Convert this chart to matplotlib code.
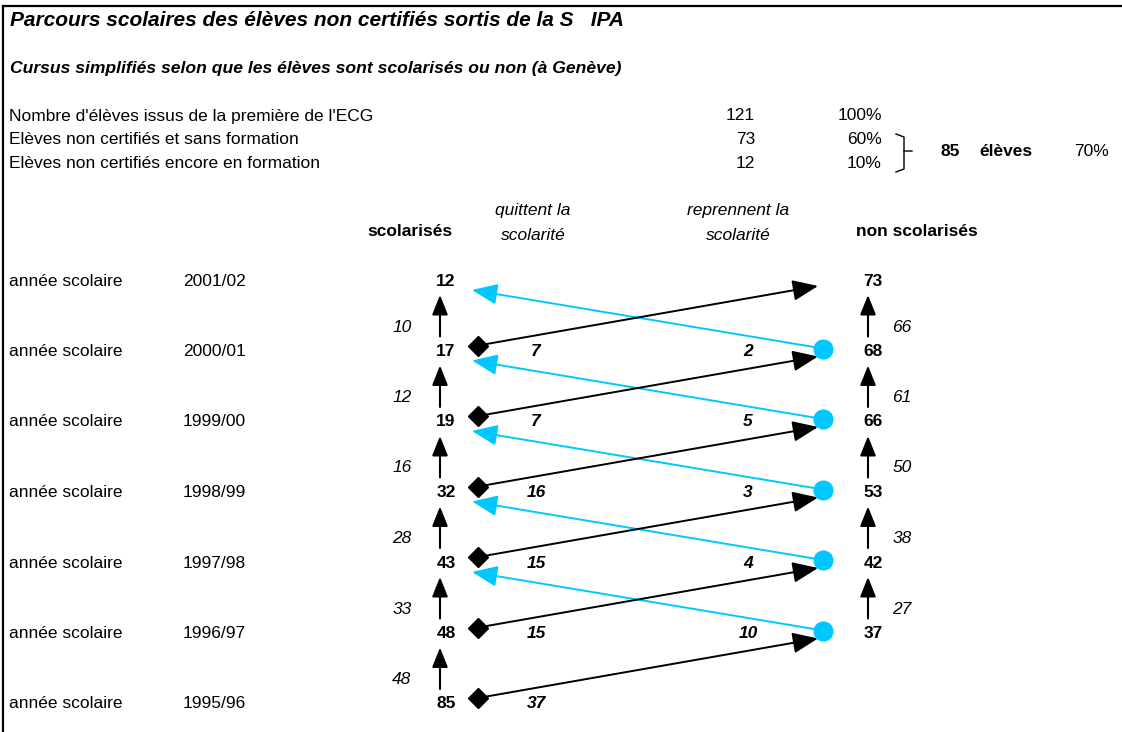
import matplotlib
matplotlib.use('Agg')
import matplotlib.pyplot as plt

plt.rcParams['font.family'] = ['Liberation Sans', 'DejaVu Sans']

# data
years = ['2001/02', '2000/01', '1999/00', '1998/99', '1997/98', '1996/97', '1995/96']
scolarises = [12, 17, 19, 32, 43, 48, 85]          # one per year row
non_scolarises = [73, 68, 66, 53, 42, 37]          # rows 2001/02 .. 1996/97
restent_scol = [10, 12, 16, 28, 33, 48]            # between row i+1 and row i (left)
restent_non = [66, 61, 50, 38, 27]                 # between row i+1 and row i (right)
quittent = [7, 7, 16, 15, 15, 37]                  # from rows 2000/01 .. 1995/96
reprennent = [2, 5, 3, 4, 10]                      # from rows 2000/01 .. 1996/97

summary_labels = ["Nombre d'élèves issus de la première de l'ECG",
                  "Elèves non certifiés et sans formation",
                  "Elèves non certifiés encore en formation"]
summary_n = [121, 73, 12]
summary_pct = ['100%', '60%', '10%']

BLUE = '#00c8ff'
FS = 12.5

fig = plt.figure(figsize=(11.22, 7.32), dpi=100)
ax = fig.add_axes([0, 0, 1, 1])
ax.set_xlim(0, 1122)
ax.set_ylim(732, 0)
ax.axis('off')

# frame (top + left)
ax.plot([3, 1122], [6, 6], color='black', lw=1.6)
ax.plot([3, 3], [6, 732], color='black', lw=1.6)

# titles
ax.text(10, 20, 'Parcours scolaires des élèves non certifiés sortis de la S   IPA',
        fontsize=15, fontweight='bold', style='italic', va='center')
ax.text(10, 69, 'Cursus simplifiés selon que les élèves sont scolarisés ou non (à Genève)',
        fontsize=12.6, fontweight='bold', style='italic', va='center')

# summary block
for i, (lab, n, p) in enumerate(zip(summary_labels, summary_n, summary_pct)):
    y = 116 + 23.5 * i
    ax.text(9, y, lab, fontsize=FS, va='center')
    ax.text(755, y, str(n), fontsize=FS, va='center', ha='right')
    ax.text(882, y, p, fontsize=FS, va='center', ha='right')
# brace
ax.plot([896, 904, 904, 912], [134, 137, 151, 151], color='black', lw=1)
ax.plot([904, 904, 896], [151, 169, 172], color='black', lw=1)
ax.text(950, 151, str(summary_n[1] + summary_n[2]), fontsize=FS, fontweight='bold',
        va='center', ha='center')
ax.text(1006, 151, 'élèves', fontsize=FS, fontweight='bold', va='center', ha='center')
ax.text(1109, 152, '70%', fontsize=FS, va='center', ha='right')

# column headers
ax.text(410, 232, 'scolarisés', fontsize=FS, fontweight='bold', va='center', ha='center')
ax.text(533, 210, 'quittent la', fontsize=FS, style='italic', va='center', ha='center')
ax.text(533, 235, 'scolarité', fontsize=FS, style='italic', va='center', ha='center')
ax.text(738, 210, 'reprennent la', fontsize=FS, style='italic', va='center', ha='center')
ax.text(738, 235, 'scolarité', fontsize=FS, style='italic', va='center', ha='center')
ax.text(917, 232, 'non scolarisés', fontsize=FS, fontweight='bold', va='center', ha='center')

row_y = [280 + 70.5 * i for i in range(len(years))]
x_scol, x_non = 446, 873
x_up_l, x_up_r = 440, 868

for i, yr in enumerate(years):
    y = row_y[i]
    ax.text(9, y + 1, 'année scolaire', fontsize=FS, va='center')
    ax.text(183, y + 1, yr, fontsize=FS, va='center')
    ax.text(x_scol, y + 1, str(scolarises[i]), fontsize=FS, fontweight='bold',
            va='center', ha='center')
    if i < len(non_scolarises):
        ax.text(x_non, y + 1, str(non_scolarises[i]), fontsize=FS, fontweight='bold',
                va='center', ha='center')

up_style = dict(arrowstyle='-|>,head_length=0.6,head_width=0.24', mutation_scale=20,
                color='black', lw=1.5, shrinkA=0, shrinkB=0)
for i, v in enumerate(restent_scol):
    ax.annotate('', xy=(x_up_l, row_y[i] + 15), xytext=(x_up_l, row_y[i + 1] - 14),
                arrowprops=up_style)
    ax.text(402, row_y[i] + 47, str(v), fontsize=FS, style='italic', va='center',
            ha='center')
for i, v in enumerate(restent_non):
    ax.annotate('', xy=(x_up_r, row_y[i] + 15), xytext=(x_up_r, row_y[i + 1] - 14),
                arrowprops=up_style)
    ax.text(902, row_y[i] + 47, str(v), fontsize=FS, style='italic', va='center',
            ha='center')

diag_black = dict(arrowstyle='-|>,head_length=0.78,head_width=0.32', mutation_scale=20,
                  color='black', lw=1.4, shrinkA=0, shrinkB=0)
diag_blue = dict(arrowstyle='-|>,head_length=0.78,head_width=0.32', mutation_scale=20,
                 color=BLUE, lw=1.4, shrinkA=0, shrinkB=0)

# quittent: scolarisés (row i+1) -> non scolarisés (row i)
for i, v in enumerate(quittent):
    y0 = row_y[i + 1] - 5
    y1 = row_y[i] + 6
    ax.annotate('', xy=(818, y1), xytext=(478, y0), arrowprops=diag_black)
    ax.plot(478, y0, marker='D', color='black', markersize=10.5)
    ax.text(536, row_y[i + 1] + 1, str(v), fontsize=FS, fontweight='bold',
            style='italic', va='center', ha='center')

# reprennent: non scolarisés (row i+1) -> scolarisés (row i)
for i, v in enumerate(reprennent):
    y0 = row_y[i + 1] - 2
    y1 = row_y[i] + 10
    ax.annotate('', xy=(472, y1), xytext=(823, y0), arrowprops=diag_blue, zorder=2)
    ax.plot(823, y0, marker='o', color=BLUE, markersize=13.5, zorder=3)
    ax.text(748, row_y[i + 1] + 1, str(v), fontsize=FS, fontweight='bold',
            style='italic', va='center', ha='center')

fig.savefig('out.png', dpi=100)
